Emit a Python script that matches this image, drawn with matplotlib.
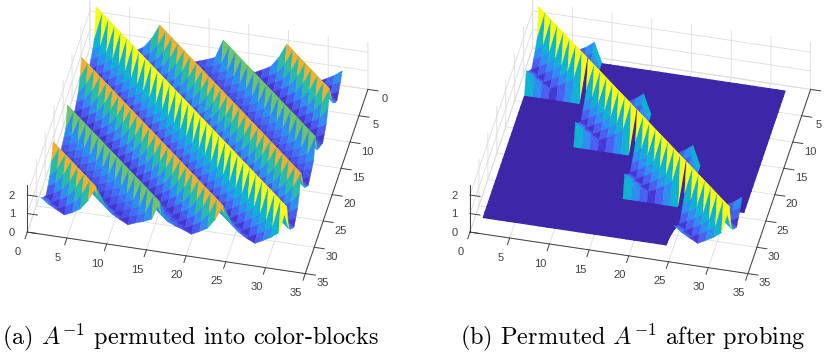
import numpy as np
import matplotlib
matplotlib.use('Agg')
import matplotlib.pyplot as plt
from matplotlib.colors import LinearSegmentedColormap, Normalize
from mpl_toolkits.mplot3d import proj3d
from mpl_toolkits.mplot3d.art3d import Poly3DCollection

# height of the surface against distance from the main diagonal (wraps every 32)
perfil = [2.55, 1.10, 0.78, 0.55, 0.33, 0.52, 0.78, 1.30,
          2.09, 1.30, 0.76, 0.52, 0.31, 0.48, 0.62, 0.80,
          1.79, 0.80, 0.62, 0.48, 0.31, 0.52, 0.76, 1.30,
          2.09, 1.30, 0.78, 0.52, 0.33, 0.55, 0.78, 1.10]
# same idea inside one diagonal block of the probed matrix
perfil_bloque = [2.55, 1.10, 0.78, 0.55, 0.33, 0.55, 0.78, 1.10]
tam_bloque = 8
ticks_xy = [0, 5, 10, 15, 20, 25, 30, 35]
ticks_z = [0, 1, 2]
titulo_a = r'(a) $A^{-1}$ permuted into color-blocks'
titulo_b = r'(b) Permuted $A^{-1}$ after probing'

parula = LinearSegmentedColormap.from_list('parula', [
    (0.000, (0.2422, 0.1504, 0.6603)), (0.140, (0.2700, 0.2200, 0.8500)),
    (0.220, (0.2800, 0.3800, 0.9600)), (0.300, (0.1800, 0.5500, 0.9500)),
    (0.430, (0.0500, 0.7000, 0.8300)), (0.520, (0.1600, 0.7400, 0.6300)),
    (0.700, (0.4200, 0.7700, 0.4200)), (0.820, (0.9300, 0.6900, 0.1900)),
    (0.900, (0.9900, 0.8000, 0.2000)), (1.000, (0.9769, 0.9839, 0.0805))])
norma = Normalize(0, max(perfil))

n = len(perfil)
idx = np.arange(n)
A = np.array(perfil)[(idx[:, None] - idx[None, :]) % n]
# after probing only the diagonal blocks survive
bloque = idx // tam_bloque
distancia = np.abs(idx[:, None] - idx[None, :]) % tam_bloque
B = np.where(bloque[:, None] == bloque[None, :], np.array(perfil_bloque)[distancia], 0.0)


def dibujar_superficie(ax, Z):
    coord = idx + 1
    triangulos = []
    colores = []
    anchos = []
    # rows go from the back to the viewer, so this order is already back to front
    for i in range(n - 1):
        for j in range(n - 1):
            p00 = (coord[j], coord[i], Z[i, j])
            p10 = (coord[j + 1], coord[i], Z[i, j + 1])
            p01 = (coord[j], coord[i + 1], Z[i + 1, j])
            p11 = (coord[j + 1], coord[i + 1], Z[i + 1, j + 1])
            # flat colour comes from the first corner, as in MATLAB surf
            c = parula(norma(Z[i, j]))
            plano = Z[i, j] == 0
            triangulos += [[p00, p10, p11], [p00, p01, p11]]
            colores += [c, c]
            # wider edge on the flat part to hide the seams
            anchos += [0.9 if plano else 0.3] * 2
    col = Poly3DCollection(triangulos, facecolors=colores, edgecolors=colores,
                           linewidths=anchos)
    # keep drawing order, the default depth sort paints hidden slopes on top
    col._zsortfunc = lambda z: 0
    ax.add_collection3d(col)


def etiqueta(ax, x, y, z, texto, **kwargs):
    X, Y, _ = proj3d.proj_transform(x, y, z, ax.get_proj())
    ax.text2D(X, Y, texto, transform=ax.transData, fontsize=8, color='#404040',
              va='center', **kwargs)


def preparar_ejes(ax, Z):
    ax.set_proj_type('ortho')
    ax.view_init(elev=41.5, azim=-77.3)
    ax.set_box_aspect((1, 1, 0.2216), zoom=0.99)
    ax.patch.set_alpha(0)
    ax.set_xlim(0, 35, view_margin=0)
    ax.set_ylim(35, 0, view_margin=0)
    ax.set_zlim(0, max(perfil), view_margin=0)
    ax.set_xticks(ticks_xy)
    ax.set_yticks(ticks_xy)
    ax.set_zticks(ticks_z)
    ax.set_xticklabels([])
    ax.set_yticklabels([])
    ax.set_zticklabels([])
    for eje in (ax.xaxis, ax.yaxis, ax.zaxis):
        eje.set_pane_color((1, 1, 1, 0))
        eje.pane.set_edgecolor('#dcdcdc')
        eje.line.set_color('#404040')
        eje.line.set_linewidth(0.7)
        eje._axinfo['grid']['color'] = '#dcdcdc'
        eje._axinfo['grid']['linewidth'] = 0.6
        eje._axinfo['tick']['inward_factor'] = 0.45
        eje._axinfo['tick']['outward_factor'] = 0.0
        eje._axinfo['tick']['linewidth'] = {True: 0.7, False: 0.7}
    ax.tick_params(axis='both', color='#404040')
    ax.zaxis.set_ticks_position('upper')
    dibujar_superficie(ax, Z)
    # tick labels placed by hand, matplotlib pushes them the wrong way in this view
    for v in ticks_xy:
        etiqueta(ax, v - 0.3, 38.8, 0, str(v), ha='center')
        etiqueta(ax, 37.45, v + 1.3, 0, str(v), ha='center')
    for v in ticks_z:
        etiqueta(ax, -1.45, 35.5, v, str(v), ha='right')


plt.rcParams['font.family'] = ['Liberation Sans', 'DejaVu Sans']
plt.rcParams['mathtext.fontset'] = 'cm'

W, H = 824, 356
fig = plt.figure(figsize=(W / 100, H / 100), dpi=100)
lado = 400
cy = 142.5
for cx, Z in ((192.2, A), (634.9, B)):
    ax = fig.add_axes([(cx - lado / 2) / W, (H - cy - lado / 2) / H, lado / W, lado / H],
                      projection='3d')
    preparar_ejes(ax, Z)

fig.text(2 / W, 1 - 337 / H, titulo_a, family='cmr10', fontsize=17.5, va='center', ha='left')
fig.text(460 / W, 1 - 337 / H, titulo_b, family='cmr10', fontsize=17.5, va='center', ha='left')

fig.savefig('out.png', dpi=100)
